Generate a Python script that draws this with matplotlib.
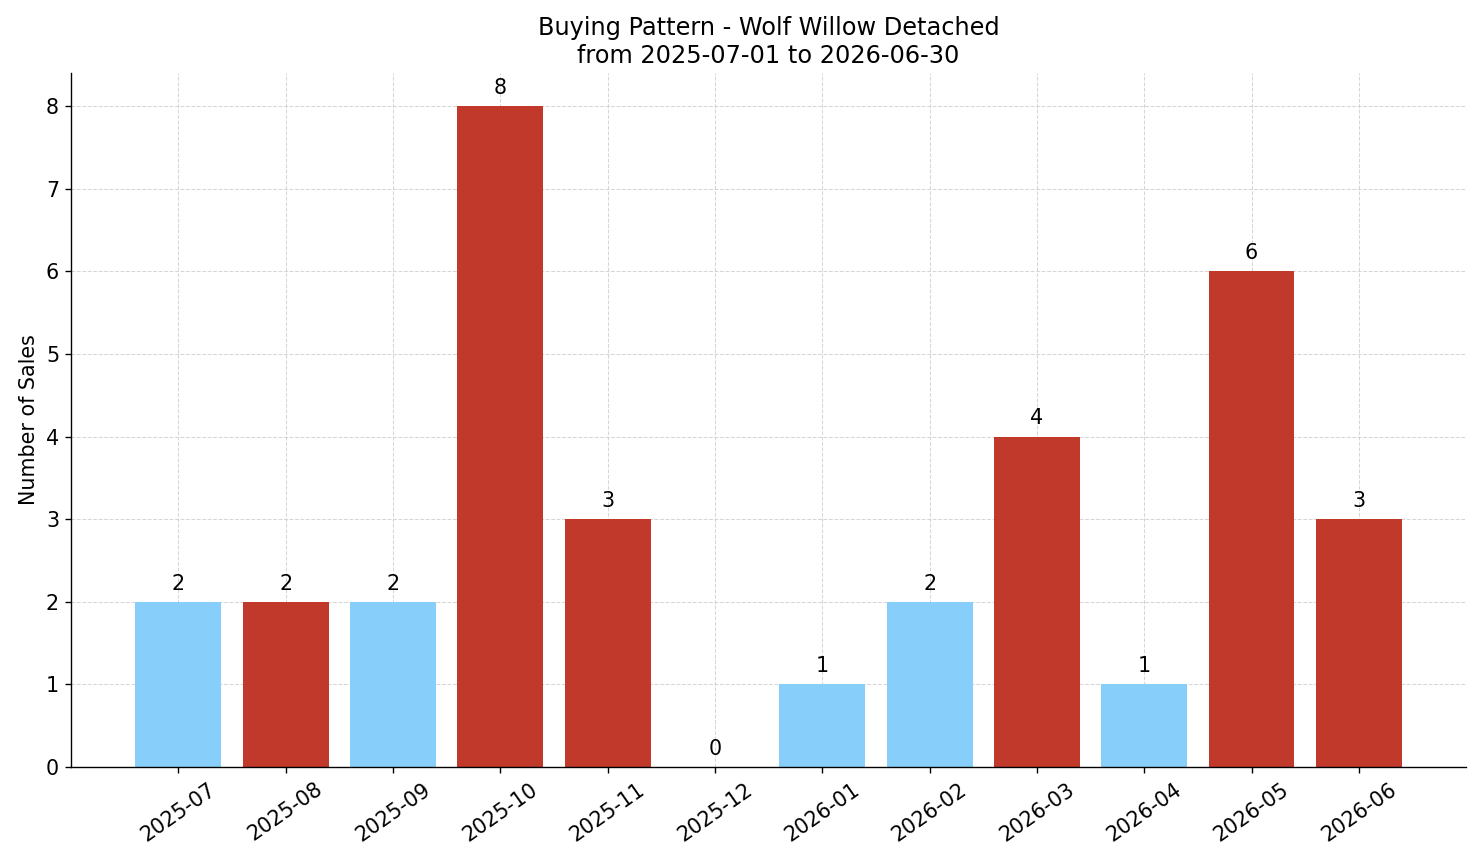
import matplotlib
matplotlib.use("Agg")
import matplotlib.pyplot as plt

months = ["2025-07", "2025-08", "2025-09", "2025-10", "2025-11", "2025-12",
          "2026-01", "2026-02", "2026-03", "2026-04", "2026-05", "2026-06"]
sales = [2, 2, 2, 8, 3, 0, 1, 2, 4, 1, 6, 3]
bar_colors = ["#87CEFA", "#C0392B", "#87CEFA", "#C0392B", "#C0392B", "#C0392B",
              "#87CEFA", "#87CEFA", "#C0392B", "#87CEFA", "#C0392B", "#C0392B"]

DPI = 123.4
fig = plt.figure(figsize=(1481 / DPI, 863 / DPI), dpi=DPI)
ax = fig.add_axes([0.048, 0.1112, 0.942, 0.8042])
x = list(range(len(months)))
ax.bar(x, sales, width=0.8, color=bar_colors, zorder=2)
for xi, v in zip(x, sales):
    ax.text(xi, v + 0.1, str(v), ha="center", va="bottom", fontsize=12)

ax.set_xlim(-1, 12)
ax.set_ylim(0, 8.4)
ax.set_xticks(x)
ax.set_xticklabels(months, rotation=35, fontsize=12)
ax.tick_params(axis="y", labelsize=12)
ax.set_ylabel("Number of Sales", fontsize=12)
ax.set_title("Buying Pattern - Wolf Willow Detached\nfrom 2025-07-01 to 2026-06-30", fontsize=14)
ax.grid(True, linestyle="--", color="#cccccc", alpha=0.8, linewidth=0.6, zorder=0)
ax.set_axisbelow(True)
ax.spines["top"].set_visible(False)
ax.spines["right"].set_visible(False)

fig.savefig("out.png", dpi=DPI)
